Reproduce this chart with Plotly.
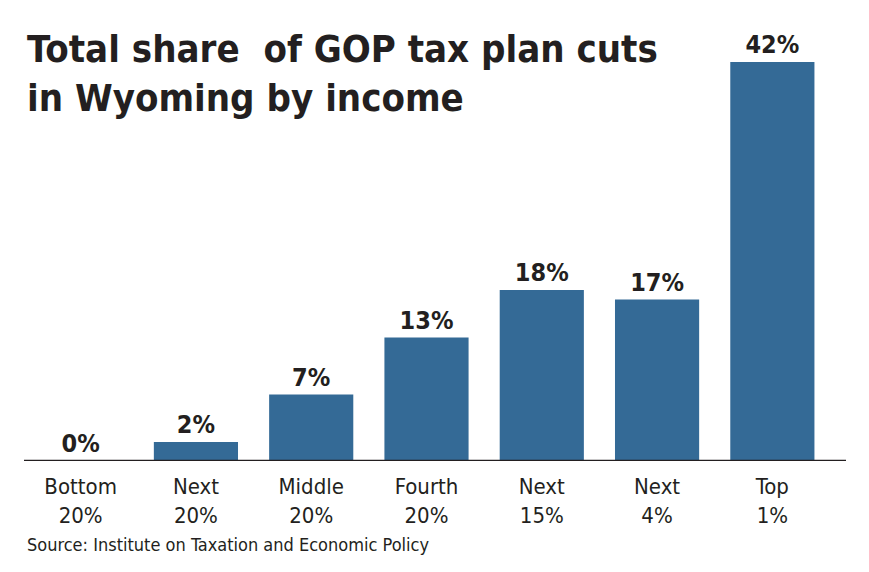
#######################################
#                package              #
#######################################
import plotly.graph_objects as go

#######################################
#                 Data                #
#######################################

groups = ['Bottom<br>20%', 'Next<br>20%', 'Middle<br>20%', 'Fourth<br>20%',
          'Next<br>15%', 'Next<br>4%', 'Top<br>1%']
share = [0, 2, 7, 13, 18, 17, 42]
share_labels = [str(v) + '%' for v in share]

bar_color = '#346a96'
ink = '#231f20'

#######################################
#                  Fig                #
#######################################

fig = go.Figure()
fig.add_trace(go.Bar(x=list(range(len(groups))), y=share,
                     text=share_labels,
                     textposition='outside',
                     textfont=dict(family='DejaVu Sans Condensed', size=25, color=ink, weight='bold'),
                     cliponaxis=False,
                     marker=dict(color=bar_color, line=dict(width=0)),
                     width=0.73))

#######################################
#                Layout               #
#######################################
# page body has an 8px margin, so figure coords are page coords minus 8
W, H = 869, 572
left, right = 15, 47
plot_w = W - left - right
plot_h = 399
fig.update_layout(width=W, height=H,
                  margin=dict(l=left, r=right, t=54, b=119),
                  plot_bgcolor='white', paper_bgcolor='white',
                  showlegend=False,
                  font=dict(family='DejaVu Sans Condensed', color=ink),
                  xaxis=dict(tickvals=list(range(len(groups))), ticktext=groups,
                             range=[-0.5, len(groups) - 0.5],
                             showgrid=False, zeroline=False, showline=False,
                             ticks='', ticklabelstandoff=10,
                             tickfont=dict(size=22, color=ink)),
                  yaxis=dict(range=[0, 42], visible=False, showgrid=False))

# title, two lines, top-left
fig.add_annotation(text='Total share  of GOP tax plan cuts<br>in Wyoming by income',
                   xref='paper', yref='paper', x=(17 - left) / plot_w, y=1 + 37 / plot_h,
                   xanchor='left', yanchor='top', align='left', showarrow=False,
                   font=dict(family='DejaVu Sans Condensed', size=38, color=ink, weight='bold'))

# source
fig.add_annotation(text='Source: Institute on Taxation and Economic Policy',
                   xref='paper', yref='paper', x=(17 - left) / plot_w, y=-(545 - 462) / plot_h,
                   xanchor='left', yanchor='middle', showarrow=False,
                   font=dict(size=18, color=ink))

# baseline rule
fig.add_shape(type='line', xref='paper', yref='y',
              x0=(16 - left) / plot_w, x1=(838 - left) / plot_w,
              y0=0, y1=0, line=dict(color=ink, width=2.5))

#######################################
#              Save Fig               #
#######################################

fig.write_html('out.html')
